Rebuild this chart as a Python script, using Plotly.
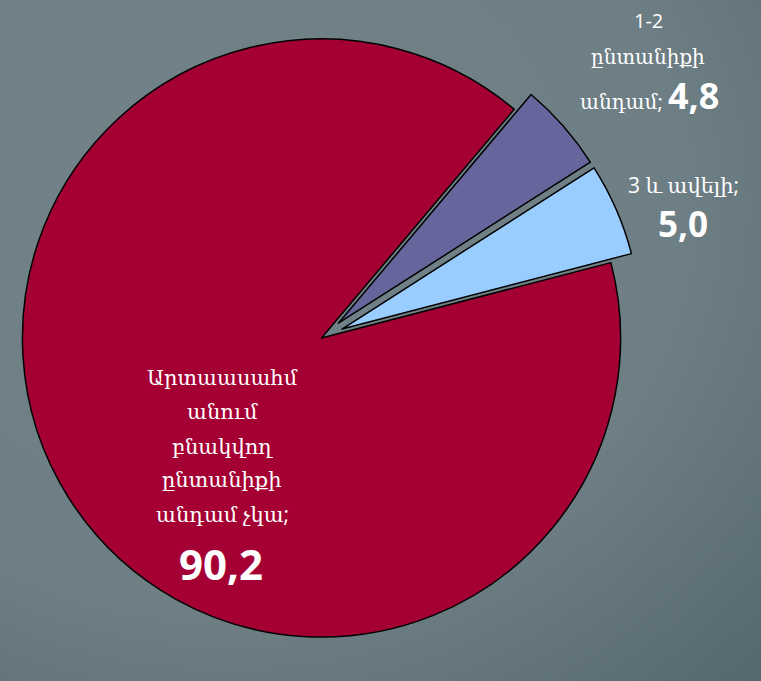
import base64
import plotly.graph_objects as go

# ---- data ----
labels = [
    "Արտաասահմ անում բնակվող ընտանիքի անդամ չկա",
    "1-2 ընտանիքի անդամ",
    "3 և ավելի",
]
values = [90.2, 4.8, 5.0]
label_lines = [
    ["Արտաասահմ", "անում", "բնակվող", "ընտանիքի", "անդամ չկա;"],
    ["1-2", "ընտանիքի", "անդամ;"],
    ["3 և ավելի;"],
]
colors = ["#A50034", "#66669C", "#99CCFF"]
pulls = [0, 0.075, 0.075]

W, H = 761, 681


def fmt(v):
    return f"{v:.1f}".replace(".", ",")


def py(p):
    return 1 - p / H


def px(p):
    return p / W


fig = go.Figure(
    go.Pie(
        labels=labels,
        values=values,
        sort=False,
        direction="clockwise",
        rotation=75.4,
        pull=pulls,
        marker=dict(colors=colors, line=dict(color="#000000", width=1.5)),
        textinfo="none",
        hoverinfo="label+value",
        showlegend=False,
        domain=dict(x=[0, 643 / W], y=[1 - 668 / H, 1 - 8 / H]),
    )
)

FONT = "Open Sans, DejaVu Serif, DejaVu Sans"
annotations = []


def add(text, x, y, size):
    annotations.append(
        dict(
            text=text,
            x=px(x),
            y=py(y),
            xref="paper",
            yref="paper",
            xanchor="center",
            yanchor="middle",
            showarrow=False,
            font=dict(family=FONT, size=size, color="#FFFFFF"),
        )
    )


# big slice label
big_ys = [377, 411, 446, 479, 514]
for line, yy in zip(label_lines[0], big_ys):
    add(line, 222, yy, 21)
add(f"<b>{fmt(values[0])}</b>", 221, 563, 42)

# 1-2 label
add(label_lines[1][0], 648, 20, 20)
add(label_lines[1][1], 648, 57, 20)
add(
    f"{label_lines[1][2]} <b><span style='font-size:36px'>{fmt(values[1])}</span></b>",
    649,
    96,
    20,
)

# 3+ label
add(label_lines[2][0], 683, 185, 21)
add(f"<b>{fmt(values[2])}</b>", 683, 223, 35)

svg = (
    f'<svg xmlns="http://www.w3.org/2000/svg" width="{W}" height="{H}">'
    '<defs><radialGradient id="g" cx="0.3" cy="0.3" r="1.0">'
    '<stop offset="0" stop-color="#718288"/>'
    '<stop offset="0.6" stop-color="#6D7E85"/>'
    '<stop offset="1" stop-color="#55676E"/>'
    "</radialGradient></defs>"
    f'<rect width="{W}" height="{H}" fill="url(#g)"/></svg>'
)
src = "data:image/svg+xml;base64," + base64.b64encode(svg.encode()).decode()

fig.update_layout(
    width=W,
    height=H,
    margin=dict(l=0, r=0, t=0, b=0),
    paper_bgcolor="#6D7E85",
    plot_bgcolor="#6D7E85",
    annotations=annotations,
    images=[
        dict(
            source=src,
            xref="paper",
            yref="paper",
            x=0,
            y=1,
            sizex=1,
            sizey=1,
            xanchor="left",
            yanchor="top",
            sizing="stretch",
            layer="below",
        )
    ],
)

fig.write_html(
    "out.html",
    config={"displayModeBar": False},
    post_script="document.body.style.margin='0';document.body.style.padding='0';",
)
